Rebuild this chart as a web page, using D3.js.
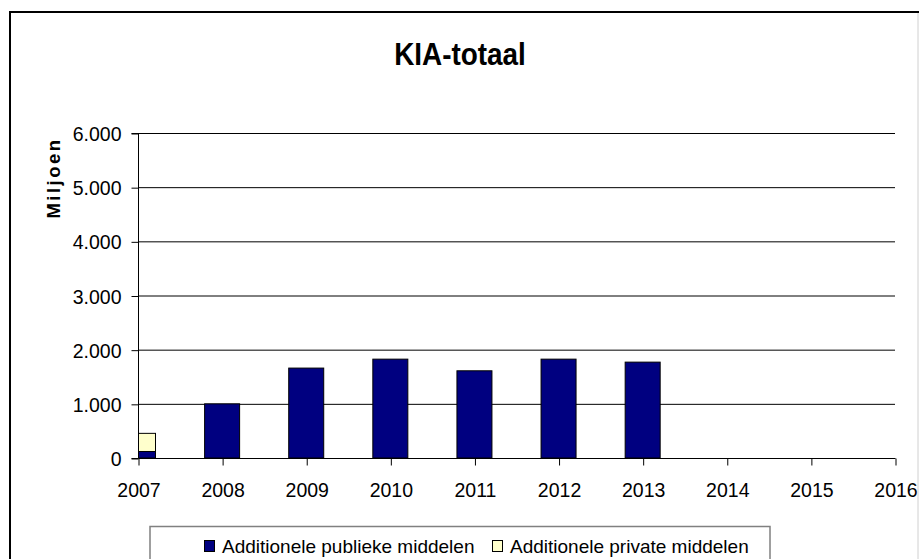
<!DOCTYPE html>
<html><head><meta charset="utf-8">
<script src="https://cdn.jsdelivr.net/npm/d3@7"></script>
<style>body{margin:0;background:#fff}svg{display:block}</style>
</head><body>
<script>
const years = [2007, 2008, 2009, 2010, 2011, 2012, 2013, 2014, 2015, 2016];
const publiek = [120, 1000, 1660, 1825, 1610, 1825, 1770, 0, 0, 0];
const privaat = [335, 0, 0, 0, 0, 0, 0, 0, 0, 0];
const yTicks = [0, 1000, 2000, 3000, 4000, 5000, 6000];
const seriesNames = ["Additionele publieke middelen", "Additionele private middelen"];
const seriesColors = ["#000080", "#FFFFCC"];

const W = 919, H = 559;
const svg = d3.select("body").append("svg").attr("width", W).attr("height", H);
const font = "'Liberation Sans', Arial, sans-serif";
const fs = 19.5;

// outer frame
svg.append("rect").attr("x", 10).attr("y", 12).attr("width", 920).attr("height", 600)
  .attr("fill", "#fff").attr("stroke", "#000").attr("stroke-width", 2);
svg.append("line").attr("x1", 918).attr("x2", 918).attr("y1", 13).attr("y2", H)
  .attr("stroke", "#d0d0d0").attr("stroke-width", 1);

const m = {left: 138, right: 895, top: 133, bottom: 458};
const x = d3.scaleLinear().domain([2007, 2016]).range([m.left, m.right]);
const y = d3.scaleLinear().domain([0, 6000]).range([m.bottom, m.top]);

// gridlines
svg.append("g").selectAll("line").data(yTicks.filter(d => d > 0)).join("line")
  .attr("x1", m.left).attr("x2", m.right)
  .attr("y1", d => y(d) + 0.5).attr("y2", d => y(d) + 0.5)
  .attr("stroke", "#000").attr("stroke-width", 1);

// bars
svg.append("clipPath").attr("id", "pc").append("rect")
  .attr("x", m.left).attr("y", m.top - 5).attr("width", m.right - m.left).attr("height", m.bottom - m.top + 5);
const data = years.map((yr, i) => ({year: yr, publiek: publiek[i], privaat: privaat[i]}));
const stack = d3.stack().keys(["publiek", "privaat"])(data);
const bw = 35;
const gBars = svg.append("g").attr("clip-path", "url(#pc)");
stack.forEach((layer, li) => {
  gBars.append("g").selectAll("rect").data(layer.filter(d => d[1] - d[0] > 0)).join("rect")
    .attr("x", d => x(d.data.year) - bw / 2)
    .attr("width", bw)
    .attr("y", d => y(d[1]))
    .attr("height", d => y(d[0]) - y(d[1]))
    .attr("fill", seriesColors[li])
    .attr("stroke", "#000").attr("stroke-width", 1);
});

// axes
const yAxis = svg.append("g").attr("transform", `translate(${m.left + 0.5},0.5)`)
  .call(d3.axisLeft(y).tickValues(yTicks).tickSize(7).tickPadding(10)
    .tickFormat(d => d3.format(",")(d).replace(/,/g, ".")));
yAxis.select(".domain").attr("stroke", "#000").attr("d", `M-7,${m.top}H0V${m.bottom}H-7`);
yAxis.selectAll("text").attr("font-family", font).attr("font-size", fs).attr("fill", "#000").attr("dy", "0.36em");

const xAxis = svg.append("g").attr("transform", `translate(0.5,${m.bottom + 0.5})`)
  .call(d3.axisBottom(x).tickValues(years).tickFormat(d3.format("d")).tickSize(7).tickPadding(18));
xAxis.select(".domain").attr("stroke", "#000").attr("d", `M${m.left},0H${m.right}`);
xAxis.selectAll("text").attr("font-family", font).attr("font-size", fs).attr("fill", "#000");

// title
svg.append("text").attr("transform", "translate(460,65) scale(0.9,1)").attr("text-anchor", "middle")
  .attr("font-family", font)
  .attr("font-weight", "bold").attr("font-size", 31).text("KIA-totaal");

// y label
svg.append("text").attr("transform", "translate(60,178) rotate(-90)")
  .attr("text-anchor", "middle").attr("font-family", font).attr("font-weight", "bold")
  .attr("font-size", 18.5).attr("letter-spacing", 2.5).text("Miljoen");

// legend
const lg = svg.append("g");
lg.append("rect").attr("x", 150).attr("y", 526.5).attr("width", 620).attr("height", 60)
  .attr("fill", "#fff").attr("stroke", "#808080").attr("stroke-width", 1.5);
const items = [{x: 204, i: 0}, {x: 492, i: 1}];
items.forEach(it => {
  lg.append("rect").attr("x", it.x + 0.5).attr("y", 540.5).attr("width", 10).attr("height", 11)
    .attr("fill", seriesColors[it.i]).attr("stroke", "#000").attr("stroke-width", 1);
  lg.append("text").attr("x", it.x + 18).attr("y", 553).attr("font-family", font)
    .attr("font-size", 19).text(seriesNames[it.i]);
});
</script>
</body></html>
